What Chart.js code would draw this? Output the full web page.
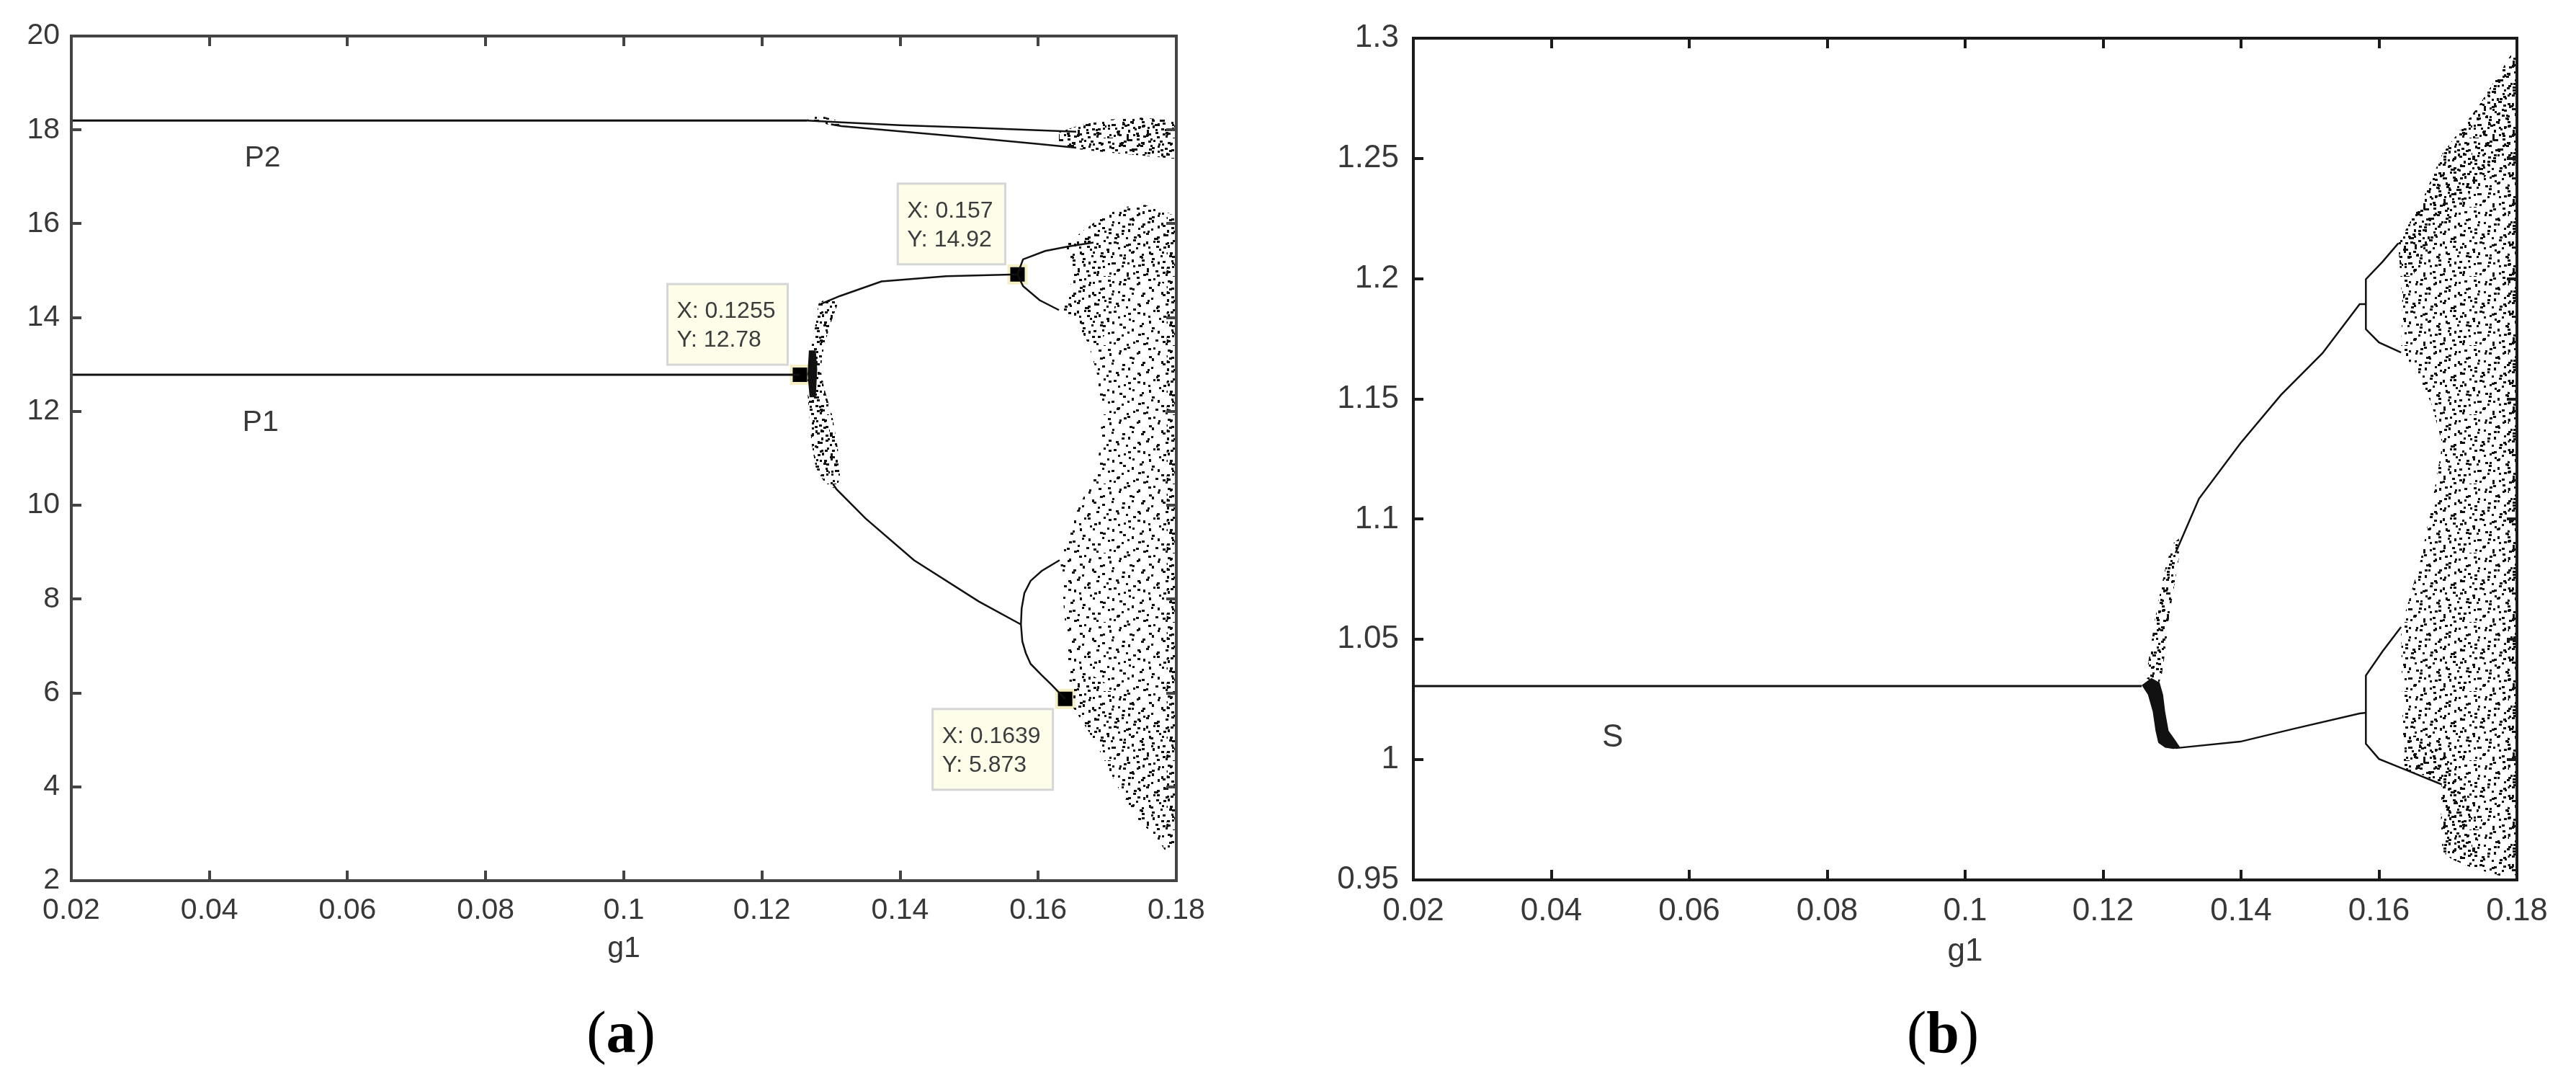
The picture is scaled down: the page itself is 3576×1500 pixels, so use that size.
<!DOCTYPE html>
<html>
<head>
<meta charset="utf-8">
<script src="https://cdn.jsdelivr.net/npm/chart.js@4.4.1/dist/chart.umd.min.js"></script>
<style>
  html, body { margin: 0; padding: 0; background: #fff; }
  body { width: 3576px; height: 1500px; position: relative; overflow: hidden; }
  canvas { position: absolute; top: 0; }
  #ca { left: 0; }
  #cb { left: 1800px; }
  .cap { position: absolute; top: 1392px; font-family: 'Liberation Serif', serif; font-size: 82px;
         line-height: 1; color: #000; transform: translateX(-50%); }
</style>
</head>
<body>
<canvas id="ca" width="1760" height="1380"></canvas>
<canvas id="cb" width="1776" height="1380"></canvas>
<div class="cap" style="left:862px">(<b>a</b>)</div>
<div class="cap" style="left:2697px">(<b>b</b>)</div>
<script>
// ── Axes ─────────────────────────────────────────────────────────────────
const X_TICKS = [0.02, 0.04, 0.06, 0.08, 0.1, 0.12, 0.14, 0.16, 0.18];
const X_TICK_LABELS = ['0.02', '0.04', '0.06', '0.08', '0.1', '0.12', '0.14', '0.16', '0.18'];
const A_Y_TICKS = [2, 4, 6, 8, 10, 12, 14, 16, 18, 20];
const A_Y_TICK_LABELS = ['2', '4', '6', '8', '10', '12', '14', '16', '18', '20'];
const B_Y_TICKS = [0.95, 1, 1.05, 1.1, 1.15, 1.2, 1.25, 1.3];
const B_Y_TICK_LABELS = ['0.95', '1', '1.05', '1.1', '1.15', '1.2', '1.25', '1.3'];

// ── Panel (a) : P1 / P2 ──────────────────────────────────────────────────
const A_P2 = [[0.02, 18.2], [0.1265, 18.2]];
const A_P2_UP = [[0.1265, 18.2], [0.1315, 18.16], [0.14, 18.1], [0.15, 18.05], [0.16, 17.99], [0.1655, 17.96]];
const A_P2_LOW = [[0.13, 18.12], [0.1315, 18.08], [0.14, 17.97], [0.15, 17.84], [0.16, 17.7], [0.1655, 17.62]];
const A_P2_BLOB = [[0.1265, 18.22], [0.1275, 18.28], [0.129, 18.28], [0.1305, 18.22], [0.1315, 18.16],
                   [0.1315, 18.07], [0.13, 18.1], [0.1285, 18.15], [0.127, 18.18]];
const A_P2_CHAOS = [[0.163, 17.95], [0.166, 18.1], [0.17, 18.22], [0.175, 18.26], [0.18, 18.2],
                    [0.18, 17.38], [0.176, 17.44], [0.17, 17.52], [0.165, 17.6], [0.163, 17.7]];
const A_P1 = [[0.02, 12.78], [0.1255, 12.78]];
const A_FAN = [[0.1282, 14.3], [0.1278, 13.9], [0.1272, 13.4], [0.1266, 12.9], [0.1265, 12.6], [0.1268, 12.0],
               [0.1272, 11.3], [0.1278, 10.8], [0.1292, 10.45], [0.1308, 10.34], [0.1313, 10.6], [0.131, 11.2],
               [0.1302, 11.9], [0.129, 12.5], [0.1285, 12.9], [0.129, 13.4], [0.13, 13.9], [0.131, 14.3],
               [0.13, 14.4], [0.129, 14.38]];
const A_FAN_CORE = [[0.1268, 13.3], [0.1278, 13.3], [0.128, 12.9], [0.1278, 12.3], [0.1269, 12.3], [0.1266, 12.8]];
const A_UPPER = [[0.1285, 14.29], [0.1313, 14.46], [0.1373, 14.77], [0.1467, 14.88], [0.157, 14.92]];
const A_UP_SPLIT = [[0.168, 15.6], [0.1645, 15.52], [0.161, 15.42], [0.1578, 15.24], [0.157, 14.92],
                    [0.1578, 14.67], [0.1602, 14.37], [0.163, 14.16]];
const A_LOWER = [[0.1303, 10.45], [0.1308, 10.34], [0.135, 9.72], [0.142, 8.83], [0.1514, 7.95], [0.1575, 7.46]];
const A_LOW_SPLIT = [[0.1631, 8.83], [0.1605, 8.6], [0.1589, 8.39], [0.158, 8.13], [0.1576, 7.8], [0.1575, 7.46],
                     [0.1577, 7.1], [0.1582, 6.85], [0.1589, 6.62], [0.1605, 6.38], [0.1619, 6.18], [0.1639, 5.873]];
const A_CHAOS = [[0.1637, 15.5], [0.1665, 15.85], [0.1689, 16.11], [0.172, 16.35], [0.1755, 16.4], [0.178, 16.25],
                 [0.18, 16.2], [0.18, 2.8], [0.1786, 2.6], [0.1772, 2.9], [0.1745, 3.3], [0.1715, 4.0],
                 [0.1688, 4.8], [0.1668, 5.3], [0.1648, 5.75], [0.1645, 6.3], [0.1641, 7.1], [0.1636, 8.0],
                 [0.1632, 8.85], [0.1638, 9.25], [0.1652, 9.75], [0.1668, 10.25], [0.1683, 10.65], [0.169, 11.3],
                 [0.1692, 12.0], [0.1685, 12.8], [0.1673, 13.44], [0.1655, 13.9], [0.1633, 14.15], [0.1645, 14.55],
                 [0.1652, 15.0], [0.1645, 15.35]];
const A_DENSE_TOP = [[0.1637, 15.5], [0.1665, 15.85], [0.1689, 16.11], [0.172, 16.35], [0.1755, 16.4], [0.178, 16.25],
                     [0.18, 16.2], [0.18, 14.6], [0.1755, 14.9], [0.172, 14.5], [0.1695, 13.6], [0.1673, 13.44],
                     [0.1655, 13.9], [0.1633, 14.15], [0.1645, 14.55], [0.1652, 15.0], [0.1645, 15.35]];
const A_DENSE_LOW = [[0.1648, 5.75], [0.1668, 5.3], [0.1688, 4.8], [0.1715, 4.0], [0.1745, 3.3], [0.1772, 2.9],
                     [0.1786, 2.6], [0.18, 2.8], [0.18, 5.2], [0.1755, 5.7], [0.171, 6.1], [0.1675, 6.4], [0.1648, 6.3]];
const A_EDGE = [[0.1786, 16.2], [0.18, 16.2], [0.18, 2.8], [0.1786, 3.0]];
const A_TIP_X = [0.1255, 0.157, 0.1639];
const A_TIP_Y = [12.78, 14.92, 5.873];
const A_NAMES = ['P2', 'P1'];
const A_NAME_X = [0.0477, 0.0474];
const A_NAME_Y = [17.4, 11.75];

// ── Panel (b) : S ────────────────────────────────────────────────────────
const B_S = [[0.02, 1.0306], [0.1256, 1.0306]];
const B_FAN = [[0.1262, 1.034], [0.1268, 1.045], [0.1275, 1.058], [0.1283, 1.07], [0.1292, 1.082], [0.1302, 1.09],
               [0.131, 1.092], [0.131, 1.084], [0.1303, 1.072], [0.1296, 1.06], [0.129, 1.045], [0.1285, 1.035],
               [0.128, 1.031]];
const B_FAN_LOW = [[0.1256, 1.031], [0.1265, 1.027], [0.1272, 1.02], [0.1276, 1.012], [0.128, 1.007], [0.129, 1.005],
                   [0.1302, 1.0045], [0.1312, 1.005], [0.1305, 1.008], [0.1295, 1.012], [0.129, 1.02],
                   [0.1287, 1.027], [0.1282, 1.032], [0.127, 1.034]];
const B_UPPER = [[0.1305, 1.086], [0.1339, 1.1085], [0.1399, 1.1315], [0.1458, 1.1517], [0.1518, 1.169],
                 [0.1572, 1.1894], [0.1581, 1.1894]];
const B_UP_SPLIT = [[0.1628, 1.2147], [0.1605, 1.207], [0.1581, 1.1998], [0.1581, 1.179], [0.16, 1.1735], [0.1632, 1.1693]];
const B_LOWER = [[0.1305, 1.0048], [0.1399, 1.0075], [0.1477, 1.0129], [0.1572, 1.0192], [0.1581, 1.0195]];
const B_LOW_SPLIT = [[0.1632, 1.0552], [0.1605, 1.045], [0.1581, 1.035], [0.1581, 1.0066], [0.16, 1.0003],
                     [0.1636, 0.9961], [0.1691, 0.9897]];
const B_CHAOS = [[0.1628, 1.2147], [0.1665, 1.234], [0.1692, 1.252], [0.1745, 1.272], [0.18, 1.297], [0.18, 0.952],
                 [0.1777, 0.9516], [0.1735, 0.955], [0.1705, 0.9587], [0.1692, 0.962], [0.169, 0.975],
                 [0.1691, 0.9897], [0.1665, 0.9935], [0.1636, 0.9961], [0.1634, 1.02], [0.1632, 1.055],
                 [0.1645, 1.068], [0.166, 1.0827], [0.1676, 1.105], [0.1692, 1.1313], [0.1676, 1.148],
                 [0.166, 1.158], [0.1645, 1.165], [0.1632, 1.1693], [0.1634, 1.19]];
const B_DENSE_LOW = [[0.1636, 0.9961], [0.1665, 0.9935], [0.1691, 0.9897], [0.169, 0.975], [0.1692, 0.962],
                     [0.1705, 0.9587], [0.1735, 0.955], [0.175, 0.975], [0.172, 0.99], [0.169, 1.005],
                     [0.1655, 1.01], [0.1636, 1.01]];
const B_DENSE_TOP = [[0.1628, 1.2147], [0.1665, 1.234], [0.1692, 1.252], [0.1745, 1.272], [0.18, 1.297],
                     [0.18, 1.255], [0.1745, 1.24], [0.1692, 1.222], [0.1655, 1.205], [0.1634, 1.19]];
const B_EDGE = [[0.1787, 1.29], [0.18, 1.297], [0.18, 0.952], [0.1787, 0.952]];
const B_NAMES = ['S'];
const B_NAME_X = [0.0489];
const B_NAME_Y = [1.009];

// ── Style ────────────────────────────────────────────────────────────────
const FONT = "'Liberation Sans', Arial, Helvetica, sans-serif";
const INK = '#111';
const LABEL = '#383838';

// disposition des points du motif (tuile de 96 px)
const SPECKS = [
  [2,4,4,3],[17,9,3,3],[29,1,4,3],[44,7,3,4],[58,3,4,3],[71,10,3,3],[85,5,4,3],
  [8,19,3,3],[22,25,4,3],[36,16,3,3],[50,22,4,3],[63,17,3,4],[78,24,4,3],[91,15,3,3],
  [3,34,4,3],[15,39,3,3],[30,30,3,4],[43,37,4,3],[57,32,3,3],[70,40,4,3],[84,31,3,3],
  [10,47,4,3],[24,53,3,3],[37,44,4,3],[51,50,3,4],[65,46,3,3],[79,54,4,3],[92,45,3,3],
  [1,60,3,3],[18,65,4,3],[31,58,3,3],[46,67,4,3],[59,61,3,4],[73,57,3,3],[87,66,4,3],
  [7,76,4,3],[21,80,3,3],[35,72,3,4],[49,78,4,3],[62,74,3,3],[76,82,4,3],[90,73,3,3],
  [4,90,3,3],[14,86,4,3],[28,93,3,3],[41,88,4,3],[55,91,3,3],[68,87,4,3],[82,92,3,3],
];
const SHIFTS = [[0, 0], [41, 45], [20, 71], [67, 23], [53, 86]];

function stipple(ctx, passes) {
  const tile = document.createElement('canvas');
  tile.width = tile.height = 96;
  const g = tile.getContext('2d');
  g.fillStyle = INK;
  SHIFTS.slice(0, passes).forEach(([dx, dy]) => {
    SPECKS.forEach(([x, y, w, h]) => g.fillRect((x + dx) % 96, (y + dy) % 96, w, h));
  });
  return ctx.createPattern(tile, 'repeat');
}

const xy = arr => arr.map(([x, y]) => ({ x, y }));

function lineSet(arr, width) {
  return { data: xy(arr), showLine: true, borderColor: INK, borderWidth: width, pointRadius: 0,
           tension: 0, fill: false };
}
function areaSet(arr, paint) {
  return { data: xy(arr), showLine: true, borderColor: 'rgba(0,0,0,0)', borderWidth: 1, backgroundColor: paint,
           pointRadius: 0, tension: 0, fill: 'shape' };
}

// cadre + graduations intérieures sur les 4 côtés
const boxTicks = {
  id: 'boxTicks',
  afterDatasetsDraw(chart, args, opts) {
    const { ctx, chartArea: a, scales } = chart;
    ctx.save();
    ctx.strokeStyle = opts.color;
    ctx.lineWidth = opts.width;
    ctx.beginPath();
    scales.x.ticks.forEach(t => {
      const px = Math.round(scales.x.getPixelForValue(t.value));
      ctx.moveTo(px, a.bottom); ctx.lineTo(px, a.bottom - opts.len);
      ctx.moveTo(px, a.top); ctx.lineTo(px, a.top + opts.len);
    });
    scales.y.ticks.forEach(t => {
      const py = Math.round(scales.y.getPixelForValue(t.value));
      ctx.moveTo(a.left, py); ctx.lineTo(a.left + opts.len, py);
      ctx.moveTo(a.right, py); ctx.lineTo(a.right - opts.len, py);
    });
    ctx.stroke();
    ctx.strokeRect(a.left, a.top, a.right - a.left, a.bottom - a.top);
    ctx.restore();
  },
};

// étiquettes P1, P2, S
const names = {
  id: 'names',
  afterDatasetsDraw(chart, args, opts) {
    const { ctx, scales } = chart;
    ctx.save();
    ctx.font = `${opts.size}px ${FONT}`;
    ctx.fillStyle = LABEL;
    ctx.textAlign = 'center';
    ctx.textBaseline = 'middle';
    opts.text.forEach((s, i) => {
      ctx.fillText(s, scales.x.getPixelForValue(opts.x[i]), scales.y.getPixelForValue(opts.y[i]));
    });
    ctx.restore();
  },
};

// bulles "X: / Y:" type datatip MATLAB
const tips = {
  id: 'tips',
  afterDatasetsDraw(chart, args, opts) {
    if (!opts.x) return;
    const { ctx, scales } = chart;
    ctx.save();
    ctx.font = `32px ${FONT}`;
    opts.x.forEach((vx, i) => {
      const l1 = 'X: ' + vx, l2 = 'Y: ' + opts.y[i];
      const w = Math.max(ctx.measureText(l1).width, ctx.measureText(l2).width) + 30;
      const h = 112;
      const px = scales.x.getPixelForValue(vx), py = scales.y.getPixelForValue(opts.y[i]);
      const left = px - 17 - w;
      const top = opts.place[i] === 'sw' ? py + 14 : py - 14 - h;
      ctx.fillStyle = '#fdfde9';
      ctx.fillRect(left, top, w, h);
      ctx.strokeStyle = '#d6d6d6';
      ctx.lineWidth = 3;
      ctx.strokeRect(left, top, w, h);
      ctx.fillStyle = '#3c3c3c';
      ctx.textBaseline = 'alphabetic';
      ctx.fillText(l1, left + 13, top + 47);
      ctx.fillText(l2, left + 13, top + 87);
    });
    ctx.restore();
  },
};

function panel(id, cfg) {
  const ctx = document.getElementById(id).getContext('2d');
  const paints = { sparse: stipple(ctx, 2), medium: stipple(ctx, 3), dense: stipple(ctx, 5), solid: INK };
  const datasets = [
    ...cfg.areas.map(([arr, p]) => areaSet(arr, paints[p])),
    ...cfg.lines.map(([arr, w]) => lineSet(arr, w)),
  ];
  if (cfg.tipX) {
    datasets.push({
      data: cfg.tipX.map((x, i) => ({ x, y: cfg.tipY[i] })),
      pointStyle: 'rect', pointRadius: 17, backgroundColor: '#000',
      borderColor: '#f4efc4', borderWidth: 4, showLine: false,
    });
  }
  const font = { family: FONT, size: cfg.fs };
  new Chart(ctx, {
    type: 'scatter',
    data: { datasets },
    plugins: [boxTicks, names, tips],
    options: {
      responsive: false,
      animation: false,
      devicePixelRatio: 1,
      layout: { padding: { left: 0, top: cfg.top, right: cfg.right, bottom: 0 } },
      plugins: {
        legend: { display: false },
        tooltip: { enabled: false },
        boxTicks: { color: cfg.frame, width: 4, len: 14 },
        names: { text: cfg.names, x: cfg.nameX, y: cfg.nameY, size: cfg.fs },
        tips: { x: cfg.tipX, y: cfg.tipY, place: cfg.tipPlace },
      },
      scales: {
        x: {
          type: 'linear', min: 0.02, max: 0.18,
          grid: { display: false, drawTicks: false }, border: { display: false },
          afterBuildTicks: s => { s.ticks = X_TICKS.map(v => ({ value: v })); },
          afterFit: s => { s.height = cfg.xh; },
          ticks: { callback: (v, i) => X_TICK_LABELS[i], font, color: LABEL, padding: 17,
                   maxRotation: 0, autoSkip: false },
          title: { display: true, text: 'g1', font, color: LABEL, padding: { top: 0, bottom: cfg.tpad } },
        },
        y: {
          type: 'linear', min: cfg.yTicks[0], max: cfg.yTicks[cfg.yTicks.length - 1],
          grid: { display: false, drawTicks: false }, border: { display: false },
          afterBuildTicks: s => { s.ticks = cfg.yTicks.map(v => ({ value: v })); },
          afterFit: s => { s.width = cfg.yw; },
          ticks: { callback: (v, i) => cfg.yLabels[i], font, color: LABEL, padding: cfg.ypad, autoSkip: false },
        },
      },
    },
  });
}

panel('ca', {
  yTicks: A_Y_TICKS, yLabels: A_Y_TICK_LABELS,
  top: 50, right: 127, xh: 158, yw: 99, ypad: 16, tpad: 39, fs: 41, frame: '#444',
  areas: [[A_CHAOS, 'sparse'], [A_DENSE_TOP, 'medium'], [A_DENSE_LOW, 'medium'], [A_EDGE, 'dense'],
          [A_P2_CHAOS, 'dense'], [A_P2_BLOB, 'dense'], [A_FAN, 'dense'], [A_FAN_CORE, 'solid']],
  lines: [[A_P2, 3], [A_P2_UP, 2.5], [A_P2_LOW, 2.5], [A_P1, 3], [A_UPPER, 2.5], [A_UP_SPLIT, 2.5],
          [A_LOWER, 2.5], [A_LOW_SPLIT, 2.5]],
  names: A_NAMES, nameX: A_NAME_X, nameY: A_NAME_Y,
  tipX: A_TIP_X, tipY: A_TIP_Y, tipPlace: ['nw', 'nw', 'sw'],
});

panel('cb', {
  yTicks: B_Y_TICKS, yLabels: B_Y_TICK_LABELS,
  top: 53, right: 82, xh: 159, yw: 162, ypad: 20, tpad: 33, fs: 44, frame: '#1a1a1a',
  areas: [[B_CHAOS, 'medium'], [B_DENSE_LOW, 'dense'], [B_DENSE_TOP, 'dense'], [B_EDGE, 'dense'],
          [B_FAN, 'dense'], [B_FAN_LOW, 'solid']],
  lines: [[B_S, 3], [B_UPPER, 2.5], [B_UP_SPLIT, 2.5], [B_LOWER, 2.5], [B_LOW_SPLIT, 2.5]],
  names: B_NAMES, nameX: B_NAME_X, nameY: B_NAME_Y,
});
</script>
</body>
</html>
